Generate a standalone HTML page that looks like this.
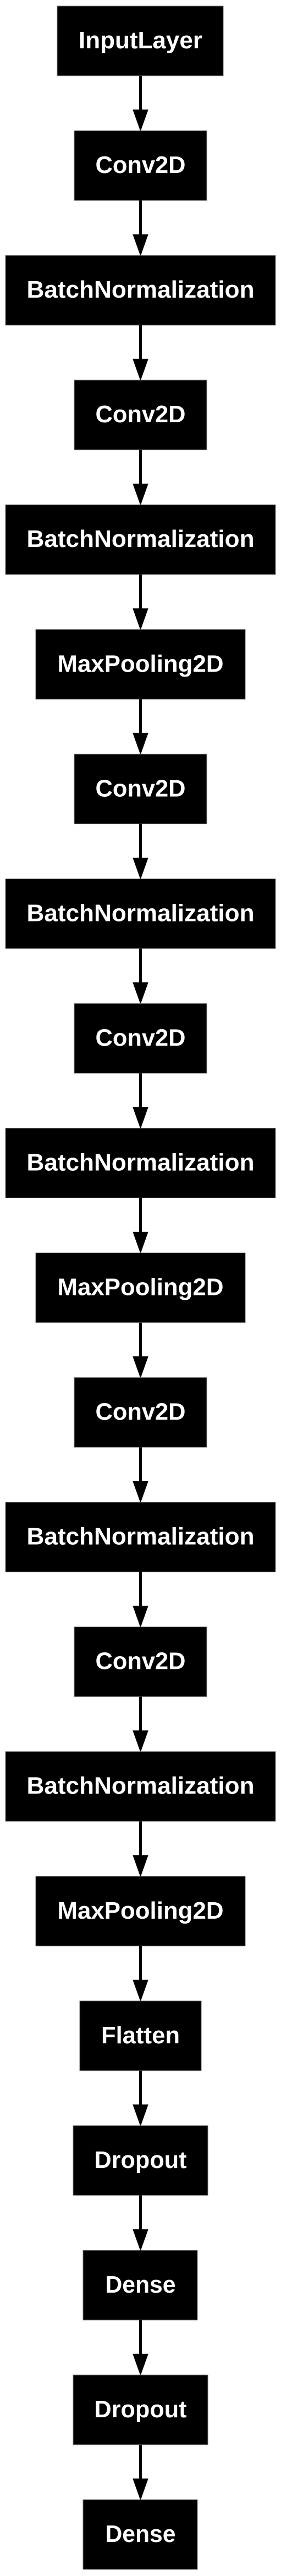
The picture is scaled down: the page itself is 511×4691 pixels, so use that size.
<!DOCTYPE html>
<html><head><meta charset="utf-8"><style>html,body{margin:0;padding:0;background:#fff}svg{display:block}</style></head>
<body>
<svg xmlns="http://www.w3.org/2000/svg" width="511" height="4691" viewBox="0 0 511 4691">
<script type="text/javascript">//</script>
<g id="g"></g>
</svg>
<script>
var nodes=[
["InputLayer",104,406,225],["Conv2D",135,376,164],["BatchNormalization",10,501,414],
["Conv2D",135,376,164],["BatchNormalization",10,501,414],["MaxPooling2D",65,446,302],
["Conv2D",135,376,164],["BatchNormalization",10,501,414],["Conv2D",135,376,164],
["BatchNormalization",10,501,414],["MaxPooling2D",65,446,302],["Conv2D",135,376,164],
["BatchNormalization",10,501,414],["Conv2D",135,376,164],["BatchNormalization",10,501,414],
["MaxPooling2D",65,446,302],["Flatten",145,366,143],["Dropout",133,378,168],
["Dense",151,359,128],["Dropout",133,378,168],["Dense",151,359,128]];
var s='';var cx=255.5;
for(var i=0;i<nodes.length;i++){
 var n=nodes[i];var y=11+i*227.05;
 s+='<rect x="'+n[1]+'" y="'+y+'" width="'+(n[2]-n[1])+'" height="127" fill="#000" stroke="#777" stroke-width="1"/>';
 s+='<text x="'+cx+'" y="'+(y+77)+'" text-anchor="middle" fill="#fff" font-family="Liberation Sans, Arial, sans-serif" font-weight="bold" font-size="44" textLength="'+n[3]+'" lengthAdjust="spacingAndGlyphs">'+n[0]+'</text>';
 if(i<nodes.length-1){
  var y0=y+127,y1=y+227.05;
  s+='<line x1="'+cx+'" y1="'+y0+'" x2="'+cx+'" y2="'+(y1-36)+'" stroke="#000" stroke-width="5"/>';
  s+='<polygon points="'+(cx-13.5)+','+(y1-38)+' '+(cx+13.5)+','+(y1-38)+' '+cx+','+y1+'" fill="#000" stroke="#000" stroke-width="1"/>';
 }
}
document.getElementById('g').innerHTML=s;
</script>
</body></html>
